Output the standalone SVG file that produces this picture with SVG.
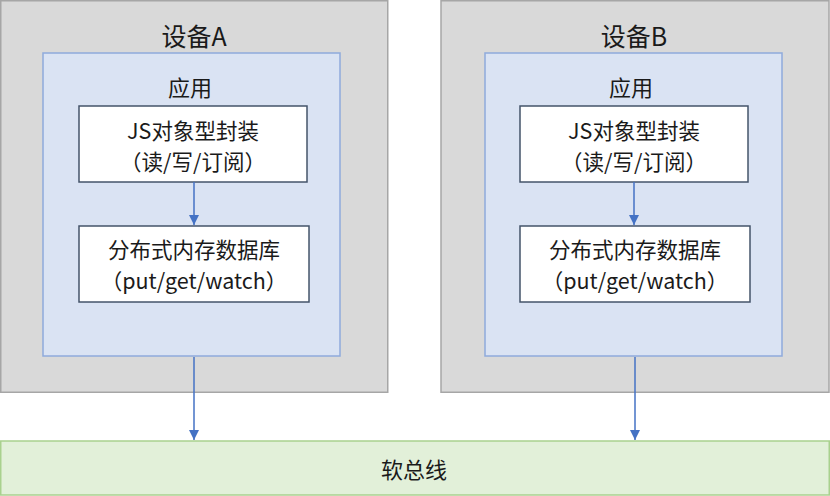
<svg xmlns="http://www.w3.org/2000/svg" width="830" height="496" viewBox="0 0 830 496">
<defs>
<style>
.dev{fill:#d9d9d9;stroke:#a6a6a6;stroke-width:1.5}
.app{fill:#dae3f3;stroke:#8faadc;stroke-width:1.5}
.mod{fill:#ffffff;stroke:#44546a;stroke-width:1.5}
.bus{fill:#e2f0d9;stroke:#a9d18e;stroke-width:1.5}
text{font-family:"Noto Sans CJK SC","Noto Sans",sans-serif;fill:#1a1a1a;text-anchor:middle;dominant-baseline:central}
.t1{font-size:25px}
.t2{font-size:22px}
.t3{font-size:21.5px}
.conn{stroke:#4472c4;stroke-width:1.5;fill:none;marker-end:url(#arr)}
</style>
<marker id="arr" viewBox="0 0 10 10" refX="10" refY="5" markerWidth="10" markerHeight="10" markerUnits="userSpaceOnUse" orient="auto">
<path d="M0,0 L10,5 L0,10 z" fill="#4472c4"/>
</marker>
</defs>
<g id="deviceA">
<rect class="dev" x="0.75" y="0.75" width="387" height="391.5"/>
<text class="t1" x="194" y="35">设备A</text>
</g>
<g id="appA">
<rect class="app" x="43" y="53" width="297" height="303"/>
<text class="t2" x="190" y="86">应用</text>
</g>
<g id="jsA">
<rect class="mod" x="79" y="106" width="228" height="76"/>
<text class="t3" x="193" y="129.5">JS对象型封装</text>
<text class="t3" x="193" y="160">（读/写/订阅）</text>
</g>
<g id="dbA">
<rect class="mod" x="79" y="226" width="230" height="76"/>
<text class="t3" x="194" y="248">分布式内存数据库</text>
<text class="t3" x="194" y="279">（put/get/watch）</text>
</g>
<g id="deviceB">
<rect class="dev" x="441" y="0.75" width="388" height="391.5"/>
<text class="t1" x="634" y="35">设备B</text>
</g>
<g id="appB">
<rect class="app" x="485" y="53" width="297" height="303"/>
<text class="t2" x="631" y="86">应用</text>
</g>
<g id="jsB">
<rect class="mod" x="520" y="106" width="228" height="76"/>
<text class="t3" x="634" y="129.5">JS对象型封装</text>
<text class="t3" x="634" y="160">（读/写/订阅）</text>
</g>
<g id="dbB">
<rect class="mod" x="520" y="226" width="230" height="76"/>
<text class="t3" x="635" y="248">分布式内存数据库</text>
<text class="t3" x="635" y="279">（put/get/watch）</text>
</g>
<g id="bus">
<rect class="bus" x="0.75" y="441" width="828.5" height="54"/>
<text class="t2" x="414" y="468">软总线</text>
</g>
<g id="connectors">
<line class="conn" x1="194" y1="182" x2="194" y2="225"/>
<line class="conn" x1="634" y1="182" x2="634" y2="225"/>
<line class="conn" x1="194" y1="357" x2="194" y2="440"/>
<line class="conn" x1="635" y1="357" x2="635" y2="440"/>
</g>
</svg>
